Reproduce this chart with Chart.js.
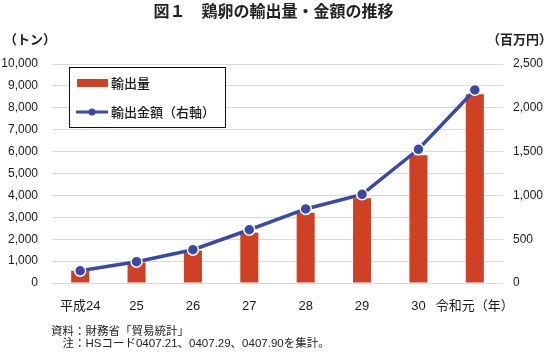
<!DOCTYPE html>
<html>
<head>
<meta charset="utf-8">
<script src="https://cdn.jsdelivr.net/npm/chart.js@4"></script>
<style>
  body { margin: 0; background: #fff; }
  #wrap { position: relative; width: 547px; height: 352px; font-family: "Liberation Sans", "Noto Sans CJK JP", sans-serif; color: #222; }
  #wrap canvas { position: absolute; left: 0; top: 0; }
  .txt { position: absolute; white-space: nowrap; line-height: 16px; }
  #title { left: 0; width: 547px; top: 4px; text-align: center; font-size: 16px; font-weight: bold; }
  #unitL { left: 4px; top: 32px; font-size: 13px; font-weight: bold; }
  #unitR { left: 487px; top: 32px; font-size: 13px; font-weight: bold; }
  #src { left: 51px; top: 323px; font-size: 11.5px; }
  #note { left: 51px; top: 335px; font-size: 11.5px; }
</style>
</head>
<body>
<div id="wrap">
  <canvas id="chart" width="547" height="352"></canvas>
  <div class="txt" id="title">図１　鶏卵の輸出量・金額の推移</div>
  <div class="txt" id="unitL">（トン）</div>
  <div class="txt" id="unitR">（百万円）</div>
  <div class="txt" id="src">資料：財務省「貿易統計」</div>
  <div class="txt" id="note">　注：HSコード0407.21、0407.29、0407.90を集計。</div>
</div>
<script>
const years = ['平成24', '25', '26', '27', '28', '29', '30', '令和元（年）'];
const exportVolume = [560, 940, 1475, 2300, 3210, 3870, 5830, 8615];   // トン
const exportValue = [140, 243, 380, 608, 845, 1012, 1526, 2204];       // 百万円
const volumeLabel = '輸出量';
const valueLabel = '輸出金額（右軸）';

const barColor = '#cf4125';
const lineColor = '#3c48a5';
const tickFont = { family: '"Liberation Sans", "Noto Sans CJK JP", sans-serif', size: 12 };

// legend box drawn inside the plot, top-left
const boxLegend = {
    id: 'boxLegend',
    afterDraw(chart) {
        const ctx = chart.ctx;
        ctx.save();
        ctx.fillStyle = '#fff';
        ctx.fillRect(69.5, 67.5, 156, 60);
        ctx.strokeStyle = '#111';
        ctx.lineWidth = 1;
        ctx.strokeRect(69.5, 67.5, 156, 60);

        ctx.fillStyle = barColor;
        ctx.fillRect(77, 79, 31, 8);

        ctx.strokeStyle = lineColor;
        ctx.lineWidth = 3;
        ctx.beginPath();
        ctx.moveTo(76, 112);
        ctx.lineTo(108, 112);
        ctx.stroke();
        ctx.fillStyle = lineColor;
        ctx.beginPath();
        ctx.arc(92, 112, 3.5, 0, Math.PI * 2);
        ctx.fill();

        ctx.fillStyle = '#1a1a1a';
        ctx.font = '500 13px "Noto Sans CJK JP", sans-serif';
        ctx.textBaseline = 'middle';
        ctx.fillText(chart.data.datasets[1].label, 111, 83);
        ctx.fillText(chart.data.datasets[0].label, 111, 112);
        ctx.restore();
    }
};

const ctx = document.getElementById('chart').getContext('2d');
const chart = new Chart(ctx, {
    data: {
        labels: years,
        datasets: [{
            type: 'line',
            label: valueLabel,
            data: exportValue,
            yAxisID: 'y1',
            borderColor: lineColor,
            borderWidth: 3.5,
            pointRadius: 5.5,
            pointBackgroundColor: lineColor,
            pointBorderColor: '#fff',
            pointBorderWidth: 1.5,
            tension: 0,
            order: 0
        }, {
            type: 'bar',
            label: volumeLabel,
            data: exportVolume,
            yAxisID: 'y',
            backgroundColor: barColor,
            categoryPercentage: 0.8,
            barPercentage: 0.4,
            order: 1
        }]
    },
    options: {
        responsive: false,
        animation: false,
        layout: { padding: { top: 64, left: 0, right: 0, bottom: 0 } },
        plugins: {
            legend: { display: false },
            tooltip: { enabled: false }
        },
        scales: {
            x: {
                grid: { display: false },
                border: { display: false },
                ticks: { color: '#1a1a1a', font: { family: tickFont.family, size: 13 }, padding: 8, maxRotation: 0, autoSkip: false },
                afterFit: (s) => { s.height = 69; }
            },
            y: {
                position: 'left',
                min: 0,
                max: 10000,
                ticks: { stepSize: 1000, color: '#1a1a1a', font: tickFont, padding: 14 },
                grid: { color: '#d9d9d9', drawTicks: false },
                border: { display: false },
                afterFit: (s) => { s.width = 52; }
            },
            y1: {
                position: 'right',
                min: 0,
                max: 2500,
                ticks: { stepSize: 500, color: '#1a1a1a', font: tickFont, padding: 10 },
                grid: { display: false, drawTicks: false },
                border: { display: false },
                afterFit: (s) => { s.width = 44; }
            }
        }
    },
    plugins: [boxLegend]
});
</script>
</body>
</html>
